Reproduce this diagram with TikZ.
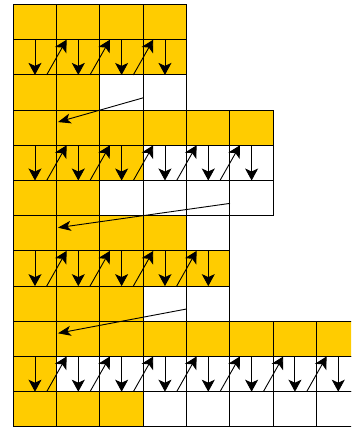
\documentclass[tikz,border=0pt]{standalone}
\usetikzlibrary{arrows.meta}
\definecolor{amber}{RGB}{255,204,0}
\begin{document}
\begin{tikzpicture}[
	x=43.33pt, y=-35.2pt,
	cell/.style={draw, line width=1pt},
	arrow/.style={-{Stealth[length=12pt, width=13pt, inset=3pt]}, line width=0.9pt},
	link/.style={-{Stealth[length=13pt, width=10pt, inset=3.5pt]}, line width=0.9pt}
	]
	
	\useasboundingbox (-0.307,-0.128) rectangle (7.794,12.088);
	\clip (-0.307,-0.128) rectangle (7.794,12.088);
	
	\foreach \r/\w/\a/\b/\c in {0/4/4/4/2, 3/6/6/3/2, 6/5/4/5/3, 9/8/8/1/3} {
		\fill[amber] (0,\r) rectangle (\a,\r+1);
		\fill[amber] (0,\r+1) rectangle (\b,\r+2);
		\fill[amber] (0,\r+2) rectangle (\c,\r+3);
		\foreach \k in {1,...,\w}
			\foreach \j in {0,1,2}
				\draw[cell] (\k-1,\r+\j) rectangle ++(1,1);
		\foreach \k in {1,...,\w}
			\draw[arrow] (\k-.5,\r+1) -- (\k-.5,\r+2);
		\pgfmathtruncatemacro\n{\w-1}
		\foreach \k in {1,...,\n}
			\draw[arrow] (\k-.23,\r+2) -- (\k+.23,\r+1);
	}
	
	\foreach \r/\w in {0/4, 3/6, 6/5}
		\draw[link] (\w-1,\r+2.65) -- (1.03,\r+3.34);
	
\end{tikzpicture}
\end{document}
